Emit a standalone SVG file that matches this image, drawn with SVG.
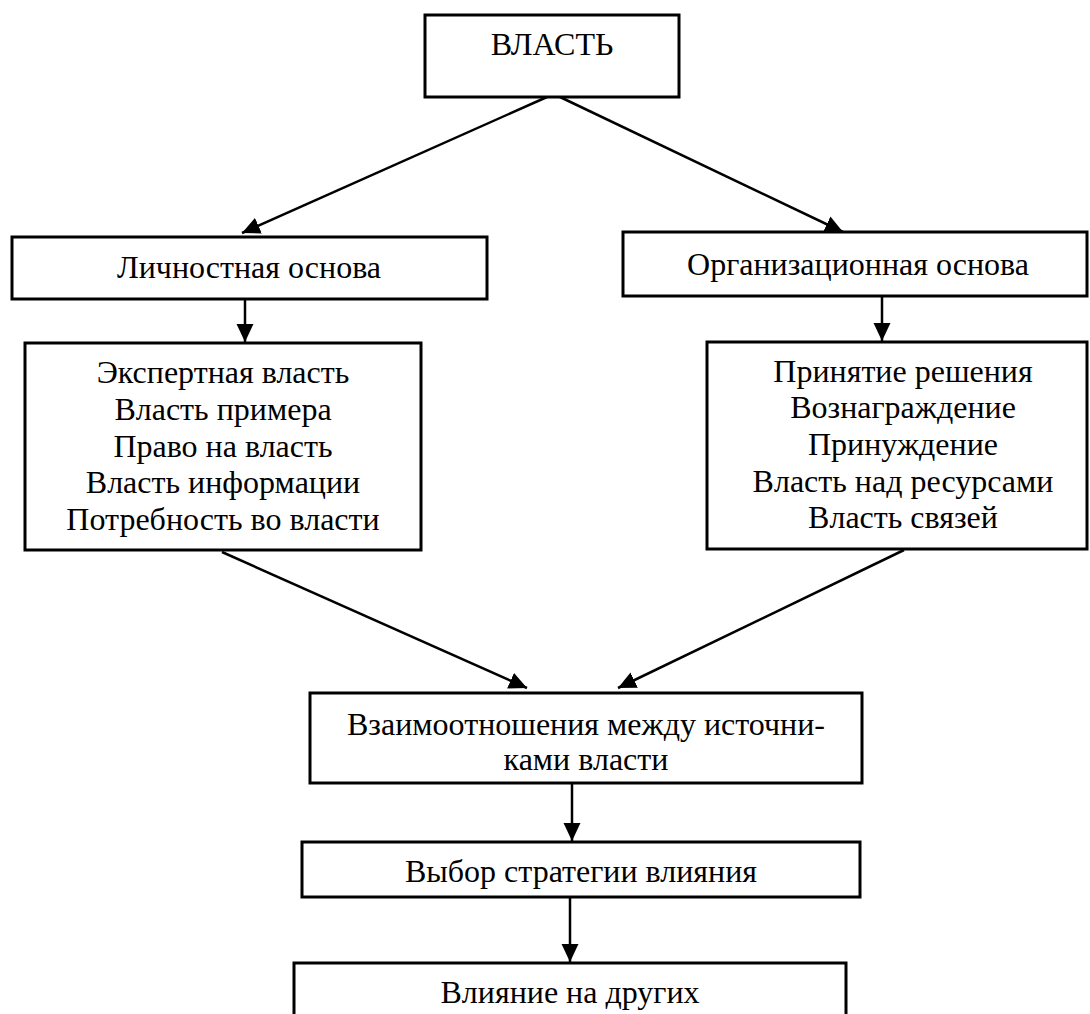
<svg xmlns="http://www.w3.org/2000/svg" width="1090" height="1014" viewBox="0 0 1090 1014">
<defs>
<style>
.box{fill:#fff;stroke:#000;stroke-width:3}
.t{font-size:32px;fill:#000;text-anchor:middle}
.c{stroke:#000;stroke-width:2.5;fill:none}
</style>
<marker id="ah" markerUnits="userSpaceOnUse" markerWidth="18" markerHeight="18" viewBox="0 0 17 16" refX="17" refY="8" orient="auto">
<path d="M0,0 L17,8 L0,16 z" fill="#000"/>
</marker>
</defs>
<rect width="1090" height="1014" fill="#fff"/>
<g id="connectors">
<line class="c" x1="547" y1="97" x2="242" y2="233" marker-end="url(#ah)"/>
<line class="c" x1="560" y1="97" x2="843" y2="232" marker-end="url(#ah)"/>
<line class="c" x1="245" y1="299" x2="245" y2="342" marker-end="url(#ah)"/>
<line class="c" x1="882" y1="296" x2="882" y2="341" marker-end="url(#ah)"/>
<line class="c" x1="222" y1="552" x2="527" y2="688" marker-end="url(#ah)"/>
<line class="c" x1="904" y1="550" x2="618" y2="688" marker-end="url(#ah)"/>
<line class="c" x1="572" y1="783" x2="572" y2="841" marker-end="url(#ah)"/>
<line class="c" x1="570" y1="897" x2="570" y2="962" marker-end="url(#ah)"/>
</g>
<g font-family="'Liberation Serif', 'Times New Roman', 'DejaVu Serif', serif">
<g id="vlast">
<rect class="box" x="425" y="15" width="254" height="82"/>
<text class="t" x="552" y="55">ВЛАСТЬ</text>
</g>
<g id="lichn">
<rect class="box" x="12" y="237" width="475" height="62"/>
<text class="t" x="249" y="278">Личностная основа</text>
</g>
<g id="org">
<rect class="box" x="623" y="232" width="464" height="64"/>
<text class="t" x="858" y="275">Организационная основа</text>
</g>
<g id="lichn-list">
<rect class="box" x="25" y="343" width="396" height="207"/>
<text class="t" x="223" y="383">Экспертная власть</text>
<text class="t" x="223" y="420">Власть примера</text>
<text class="t" x="223" y="457">Право на власть</text>
<text class="t" x="223" y="493">Власть информации</text>
<text class="t" x="223" y="530">Потребность во власти</text>
</g>
<g id="org-list">
<rect class="box" x="707" y="342" width="380" height="207"/>
<text class="t" x="903" y="382">Принятие решения</text>
<text class="t" x="903" y="418">Вознаграждение</text>
<text class="t" x="903" y="455">Принуждение</text>
<text class="t" x="903" y="492">Власть над ресурсами</text>
<text class="t" x="903" y="528">Власть связей</text>
</g>
<g id="vzaim">
<rect class="box" x="310" y="693" width="552" height="90"/>
<text class="t" x="586" y="735">Взаимоотношения между источни-</text>
<text class="t" x="586" y="770">ками власти</text>
</g>
<g id="vybor">
<rect class="box" x="302" y="842" width="558" height="55"/>
<text class="t" x="581" y="882">Выбор стратегии влияния</text>
</g>
<g id="vliyanie">
<rect class="box" x="294" y="963" width="552" height="70"/>
<text class="t" x="570" y="1003">Влияние на других</text>
</g>
</g>
</svg>
